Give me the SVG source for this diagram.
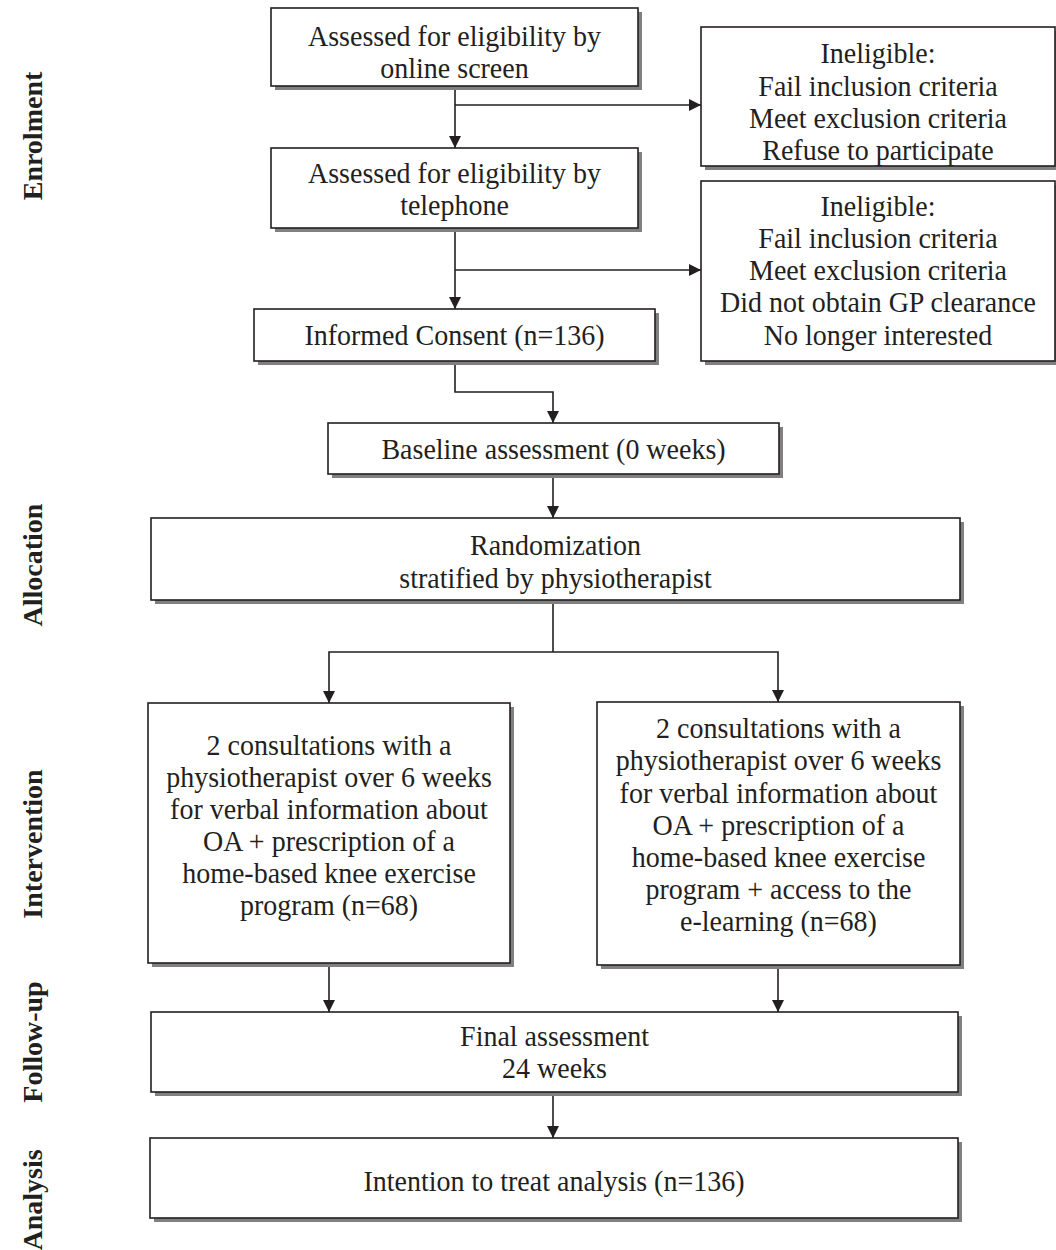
<svg xmlns="http://www.w3.org/2000/svg" width="1056" height="1250" viewBox="0 0 1056 1250">
<style>
.sh{fill:#808080;stroke:none}
.bx{fill:#fff;stroke:#231f20;stroke-width:1.6}
.t{font-family:"Liberation Serif","Times New Roman",serif;font-size:30px;fill:#231f20;text-anchor:middle}
.lbl{font-family:"Liberation Serif","Times New Roman",serif;font-size:28px;font-weight:bold;fill:#231f20;text-anchor:middle}
.ln{fill:none;stroke:#231f20;stroke-width:1.6}
</style>
<defs>
<marker id="ah" viewBox="0 0 12 12" refX="12" refY="6" markerWidth="12" markerHeight="12" markerUnits="userSpaceOnUse" orient="auto">
<path d="M0,0 L12,6 L0,12 Z" fill="#231f20"/>
</marker>
</defs>
<rect width="1056" height="1250" fill="#fff"/>

<g id="phase-labels">
<text class="lbl" transform="translate(42,136) rotate(-90)">Enrolment</text>
<text class="lbl" transform="translate(42,565) rotate(-90)">Allocation</text>
<text class="lbl" transform="translate(42,844) rotate(-90)">Intervention</text>
<text class="lbl" transform="translate(42,1042) rotate(-90)">Follow-up</text>
<text class="lbl" transform="translate(42,1200) rotate(-90)">Analysis</text>
</g>

<g id="connectors">
<path class="ln" d="M455,86 V148" marker-end="url(#ah)"/>
<path class="ln" d="M455,105 H701" marker-end="url(#ah)"/>
<path class="ln" d="M455,228 V309" marker-end="url(#ah)"/>
<path class="ln" d="M455,270 H701" marker-end="url(#ah)"/>
<path class="ln" d="M455,361 V392 H553 V423" marker-end="url(#ah)"/>
<path class="ln" d="M553,474 V518" marker-end="url(#ah)"/>
<path class="ln" d="M553,600 V652"/>
<path class="ln" d="M553,652 H329 V703" marker-end="url(#ah)"/>
<path class="ln" d="M553,652 H778 V702" marker-end="url(#ah)"/>
<path class="ln" d="M329,963 V1012" marker-end="url(#ah)"/>
<path class="ln" d="M778,965 V1012" marker-end="url(#ah)"/>
<path class="ln" d="M553,1092 V1138" marker-end="url(#ah)"/>
</g>

<g id="online-screen">
<rect class="sh" x="275" y="12" width="367" height="78"/>
<rect class="bx" x="271" y="8" width="367" height="78"/>
<g transform="translate(454.5,0) scale(0.933,1)">
<text class="t" x="0" y="46">Assessed for eligibility by</text>
<text class="t" x="0" y="78">online screen</text>
</g>
</g>

<g id="ineligible-1">
<rect class="sh" x="705" y="31" width="354" height="139"/>
<rect class="bx" x="701" y="27" width="354" height="139"/>
<g transform="translate(878,0) scale(0.933,1)">
<text class="t" x="0" y="63">Ineligible:</text>
<text class="t" x="0" y="96">Fail inclusion criteria</text>
<text class="t" x="0" y="128">Meet exclusion criteria</text>
<text class="t" x="0" y="160">Refuse to participate</text>
</g>
</g>

<g id="telephone">
<rect class="sh" x="275" y="152" width="367" height="80"/>
<rect class="bx" x="271" y="148" width="367" height="80"/>
<g transform="translate(454.5,0) scale(0.933,1)">
<text class="t" x="0" y="183">Assessed for eligibility by</text>
<text class="t" x="0" y="215">telephone</text>
</g>
</g>

<g id="ineligible-2">
<rect class="sh" x="705" y="185" width="354" height="180"/>
<rect class="bx" x="701" y="181" width="354" height="180"/>
<g transform="translate(878,0) scale(0.933,1)">
<text class="t" x="0" y="216">Ineligible:</text>
<text class="t" x="0" y="248">Fail inclusion criteria</text>
<text class="t" x="0" y="280">Meet exclusion criteria</text>
<text class="t" x="0" y="312">Did not obtain GP clearance</text>
<text class="t" x="0" y="345">No longer interested</text>
</g>
</g>

<g id="consent">
<rect class="sh" x="258" y="313" width="401" height="52"/>
<rect class="bx" x="254" y="309" width="401" height="52"/>
<g transform="translate(454.5,0) scale(0.933,1)">
<text class="t" x="0" y="345">Informed Consent (n=136)</text>
</g>
</g>

<g id="baseline">
<rect class="sh" x="332" y="427" width="451" height="51"/>
<rect class="bx" x="328" y="423" width="451" height="51"/>
<g transform="translate(553.5,0) scale(0.933,1)">
<text class="t" x="0" y="459">Baseline assessment (0 weeks)</text>
</g>
</g>

<g id="randomization">
<rect class="sh" x="155" y="522" width="809" height="82"/>
<rect class="bx" x="151" y="518" width="809" height="82"/>
<g transform="translate(555.5,0) scale(0.933,1)">
<text class="t" x="0" y="555">Randomization</text>
<text class="t" x="0" y="588">stratified by physiotherapist</text>
</g>
</g>

<g id="group-a">
<rect class="sh" x="152" y="707" width="362" height="260"/>
<rect class="bx" x="148" y="703" width="362" height="260"/>
<g transform="translate(329,0) scale(0.933,1)">
<text class="t" x="0" y="755">2 consultations with a</text>
<text class="t" x="0" y="787">physiotherapist over 6 weeks</text>
<text class="t" x="0" y="819">for verbal information about</text>
<text class="t" x="0" y="851">OA + prescription of a</text>
<text class="t" x="0" y="883">home-based knee exercise</text>
<text class="t" x="0" y="915">program (n=68)</text>
</g>
</g>

<g id="group-b">
<rect class="sh" x="601" y="706" width="363" height="263"/>
<rect class="bx" x="597" y="702" width="363" height="263"/>
<g transform="translate(778.5,0) scale(0.933,1)">
<text class="t" x="0" y="738">2 consultations with a</text>
<text class="t" x="0" y="770">physiotherapist over 6 weeks</text>
<text class="t" x="0" y="803">for verbal information about</text>
<text class="t" x="0" y="835">OA + prescription of a</text>
<text class="t" x="0" y="867">home-based knee exercise</text>
<text class="t" x="0" y="899">program + access to the</text>
<text class="t" x="0" y="931">e-learning (n=68)</text>
</g>
</g>

<g id="final">
<rect class="sh" x="155" y="1016" width="807" height="80"/>
<rect class="bx" x="151" y="1012" width="807" height="80"/>
<g transform="translate(554.5,0) scale(0.933,1)">
<text class="t" x="0" y="1046">Final assessment</text>
<text class="t" x="0" y="1078">24 weeks</text>
</g>
</g>

<g id="analysis">
<rect class="sh" x="154" y="1142" width="808" height="80"/>
<rect class="bx" x="150" y="1138" width="808" height="80"/>
<g transform="translate(554,0) scale(0.933,1)">
<text class="t" x="0" y="1191">Intention to treat analysis (n=136)</text>
</g>
</g>
</svg>
